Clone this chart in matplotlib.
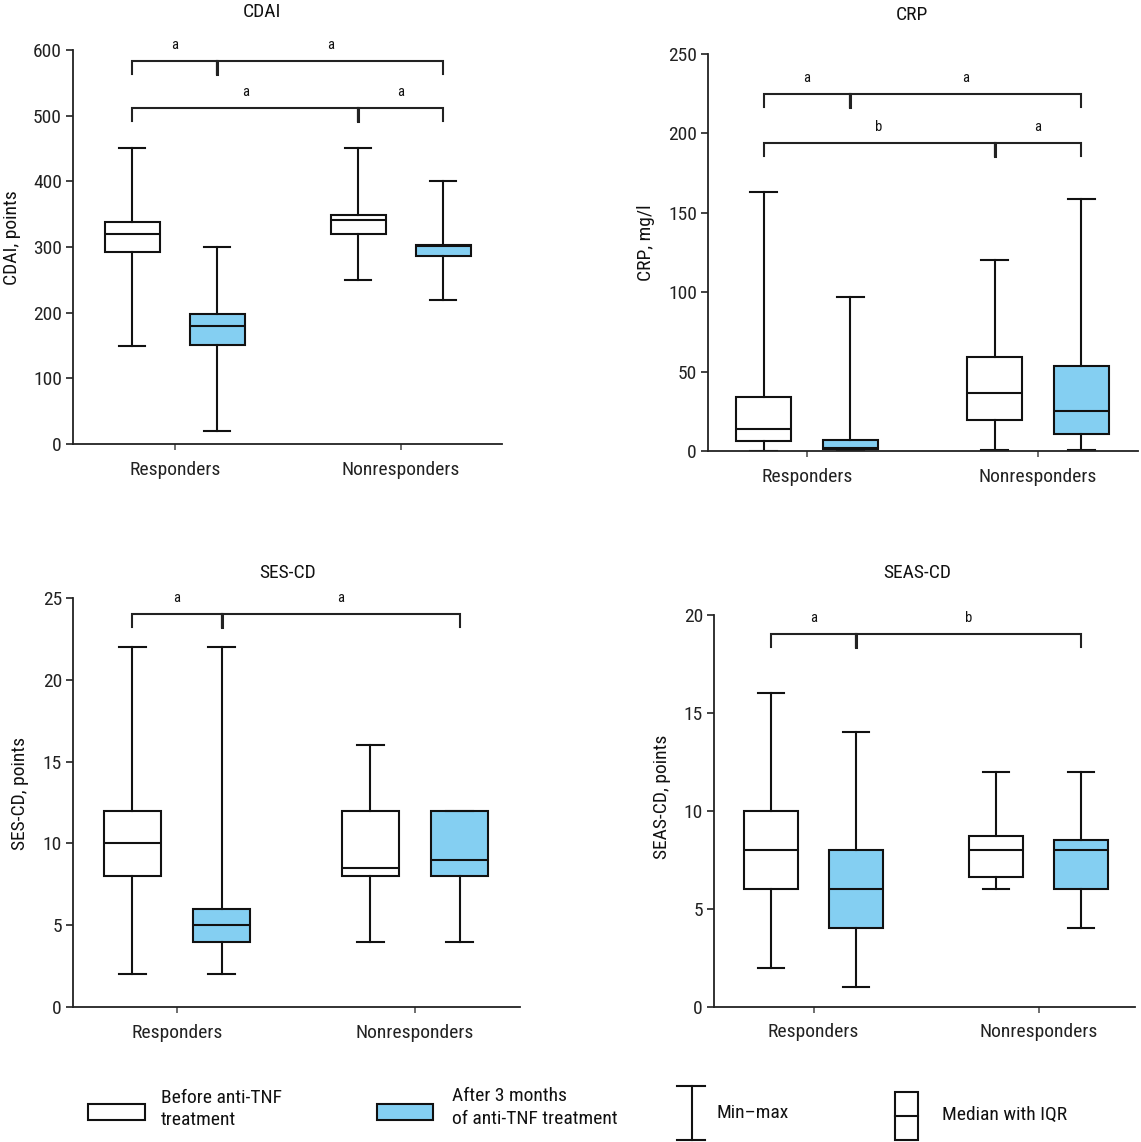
import matplotlib
matplotlib.use('Agg')
import matplotlib.pyplot as plt
from matplotlib.patches import Rectangle
from matplotlib import font_manager

names = {f.name for f in font_manager.fontManager.ttflist}
if 'Liberation Sans Narrow' in names:
    FAM = ['Liberation Sans Narrow', 'DejaVu Sans']
    SCALE = 1.0
elif 'Roboto Condensed' in names:
    FAM = ['Roboto Condensed', 'DejaVu Sans']
    SCALE = 1.0
else:
    FAM = ['Roboto', 'DejaVu Sans']
    SCALE = 0.85
plt.rcParams['font.family'] = FAM

W, H = 1141, 1142
DPI = 100
BLUE = '#84cff2'
INK = '#111111'

groups = ['Responders', 'Nonresponders']
series = ['Before anti-TNF\ntreatment', 'After 3 months\nof anti-TNF treatment']

# order: responders before, responders after, nonresponders before, nonresponders after
cdai_min = [150, 20, 250, 220]
cdai_q1 = [292, 151, 320, 286]
cdai_med = [320, 180, 341, 301]
cdai_q3 = [338, 198, 348, 303]
cdai_max = [450, 300, 450, 400]

crp_min = [0, 0, 0.5, 0.5]
crp_q1 = [6, 1, 19.5, 10.5]
crp_med = [14, 2, 36.5, 25.5]
crp_q3 = [34, 7, 59, 53.5]
crp_max = [163, 97, 120, 159]

ses_min = [2, 2, 4, 4]
ses_q1 = [8, 4, 8, 8]
ses_med = [10, 5, 8.5, 9]
ses_q3 = [12, 6, 12, 12]
ses_max = [22, 22, 16, 12]

seas_min = [2, 1, 6, 4]
seas_q1 = [6, 4, 6.6, 6]
seas_med = [8, 6, 8, 8]
seas_q3 = [10, 8, 8.7, 8.5]
seas_max = [16, 14, 12, 12]

# significance brackets: (box i, box j, level, label)
cdai_sig = [(0, 1, 583, 'a'), (1, 3, 583, 'a'), (0, 2, 512, 'a'), (2, 3, 512, 'a')]
crp_sig = [(0, 1, 225, 'a'), (1, 3, 225, 'a'), (0, 2, 194, 'b'), (2, 3, 194, 'a')]
ses_sig = [(0, 1, 24, 'a'), (1, 3, 24, 'a')]
seas_sig = [(0, 1, 19, 'a'), (1, 3, 19, 'b')]

fig = plt.figure(figsize=(W / DPI, H / DPI), dpi=DPI)
fig.patch.set_facecolor('white')

POS = [-0.188, 0.188, 1 - 0.188, 1 + 0.188]


def add_axes_px(left, top, right, bottom):
    return fig.add_axes([left / W, 1 - bottom / H, (right - left) / W, (bottom - top) / H])


def panel(rect, xlim, ylim, yticks, mins, q1s, meds, q3s, maxs, sig, title, title_xy, ylabel, ylabel_xy):
    ax = add_axes_px(*rect)
    stats = []
    for i in range(4):
        stats.append(dict(med=meds[i], q1=q1s[i], q3=q3s[i], whislo=mins[i], whishi=maxs[i], fliers=[]))
    lw = 1.5
    b = ax.bxp(stats, positions=POS, widths=0.24, capwidths=0.115, patch_artist=True,
               showfliers=False, manage_ticks=False,
               boxprops=dict(linewidth=lw, edgecolor=INK),
               medianprops=dict(linewidth=lw, color=INK),
               whiskerprops=dict(linewidth=lw, color=INK),
               capprops=dict(linewidth=lw, color=INK))
    for k, patch in enumerate(b['boxes']):
        patch.set_facecolor('white' if k % 2 == 0 else BLUE)
    ax.set_xlim(*xlim)
    ax.set_ylim(*ylim)
    ax.set_yticks(yticks)
    ax.set_yticklabels([str(t) for t in yticks])
    ax.set_xticks([0, 1])
    ax.set_xticklabels(groups)
    for s in ['top', 'right']:
        ax.spines[s].set_visible(False)
    for s in ['left', 'bottom']:
        ax.spines[s].set_linewidth(1.3)
        ax.spines[s].set_color('#222222')
    ax.tick_params(axis='y', length=5, width=1.2, pad=3, labelsize=14 * SCALE, colors='#222222')
    ax.tick_params(axis='x', length=4, width=1.2, pad=8, labelsize=14 * SCALE, colors='#555555',
                   labelcolor='#222222')
    ax.set_facecolor('white')
    # brackets
    axh = rect[3] - rect[1]
    upp = (ylim[1] - ylim[0]) / axh
    arm = 13 * upp
    for (i, j, lev, lab) in sig:
        x1, x2 = POS[i], POS[j]
        ax.plot([x1, x1, x2, x2], [lev - arm, lev, lev, lev - arm], color='#222222', lw=1.5,
                clip_on=False, solid_joinstyle='miter')
        ax.plot([x1, x1], [lev - arm, lev], color='#222222', lw=2.2, clip_on=False) if i == 1 or i == 2 else None
        ax.text((x1 + x2) / 2, lev + 12 * upp, lab, ha='center', va='baseline', fontsize=10.5 * SCALE,
                color=INK)
    fig.text(title_xy[0] / W, 1 - title_xy[1] / H, title, ha='center', va='center',
             fontsize=14 * SCALE, color=INK)
    fig.text(ylabel_xy[0] / W, 1 - ylabel_xy[1] / H, ylabel, ha='center', va='center',
             rotation=90, fontsize=14 * SCALE, color=INK)
    return ax


panel((73, 50, 502, 444), (-0.451, 1.447), (0, 600), list(range(0, 601, 100)),
      cdai_min, cdai_q1, cdai_med, cdai_q3, cdai_max, cdai_sig,
      'CDAI', (262, 12), 'CDAI, points', (12, 238))
panel((708, 54, 1138, 451), (-0.429, 1.433), (0, 250), list(range(0, 251, 50)),
      crp_min, crp_q1, crp_med, crp_q3, crp_max, crp_sig,
      'CRP', (912, 15), 'CRP, mg/l', (646, 243))
panel((73, 598, 520, 1007), (-0.437, 1.441), (0, 25), list(range(0, 26, 5)),
      ses_min, ses_q1, ses_med, ses_q3, ses_max, ses_sig,
      'SES-CD', (288, 573), 'SES-CD, points', (20, 793))
panel((714, 614.7, 1135, 1006.7), (-0.443, 1.428), (0, 20), list(range(0, 21, 5)),
      seas_min, seas_q1, seas_med, seas_q3, seas_max, seas_sig,
      'SEAS-CD', (917, 573), 'SEAS-CD, points', (662, 797))

# legend drawn in pixel space
lg = fig.add_axes([0, 0, 1, 1], zorder=-1)
lg.set_xlim(0, W)
lg.set_ylim(H, 0)
lg.axis('off')
lg.add_patch(Rectangle((88, 1104), 57, 16, facecolor='white', edgecolor=INK, lw=1.5))
lg.text(161, 1109, series[0], ha='left', va='center', fontsize=14 * SCALE, color=INK, linespacing=1.3)
lg.add_patch(Rectangle((377, 1104), 56, 16, facecolor=BLUE, edgecolor=INK, lw=1.5))
lg.text(452, 1107.5, series[1], ha='left', va='center', fontsize=14 * SCALE, color=INK, linespacing=1.3)
lg.plot([692, 692], [1086, 1140], color=INK, lw=1.5)
lg.plot([677, 705], [1086, 1086], color=INK, lw=1.5)
lg.plot([677, 705], [1140, 1140], color=INK, lw=1.5)
lg.text(717, 1113, 'Min–max', ha='left', va='center', fontsize=14 * SCALE, color=INK)
lg.add_patch(Rectangle((895, 1092), 23, 48, facecolor='white', edgecolor=INK, lw=1.5))
lg.plot([895, 918], [1116, 1116], color=INK, lw=1.5)
lg.text(942, 1115, 'Median with IQR', ha='left', va='center', fontsize=14 * SCALE, color=INK)

fig.savefig('out.png', dpi=DPI, facecolor='white')
